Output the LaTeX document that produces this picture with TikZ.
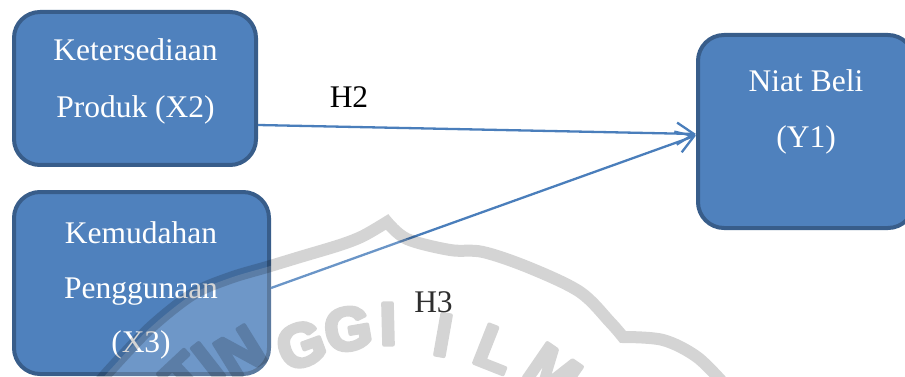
\documentclass[tikz,border=0pt]{standalone}
\usepackage{fontspec}
\setmainfont{Liberation Serif}
\newfontfamily\markfont{Liberation Sans}
\usetikzlibrary{arrows.meta}

\definecolor{boxfill}{HTML}{4F81BD}
\definecolor{boxline}{HTML}{385D8A}
\definecolor{linkblue}{HTML}{4A7EBB}

% emblem glyphs are filled and stroked for a heavy face
\newcommand\heavyglyph[1]{\special{pdf:literal direct 2 Tr 4 w 1 j}#1\special{pdf:literal direct 0 Tr}}

\tikzset{
  varbox/.style={draw=boxline, fill=boxfill, line width=4pt, rounded corners=26pt, inner sep=0pt},
  boxtext/.style={text=white, font=\fontsize{31.5}{36}\selectfont, anchor=base, inner sep=0pt},
  hlabel/.style={text=black, font=\fontsize{31.5}{36}\selectfont, anchor=base, inner sep=0pt},
  link/.style={draw=linkblue, line width=2.3pt, -{Straight Barb[length=17pt,width=22pt]}},
  markband/.style={draw=black, line width=12pt, line join=miter},
  markletter/.style={text=black, font=\markfont\bfseries\fontsize{60}{64}\selectfont, inner sep=0pt}
}

\begin{document}
\begin{tikzpicture}[x=1pt,y=1pt]
  \useasboundingbox (0,0) rectangle (905,-377);
  \clip (0,0) rectangle (905,-377);

  % variable boxes
  \node[varbox, minimum width=242pt, minimum height=153pt] (x2) at (135,-88.5) {};
  \node[varbox, minimum width=255pt, minimum height=182pt] (x3) at (141.5,-283) {};
  \node[varbox, minimum width=216pt, minimum height=193pt] (y1) at (806,-131.5) {};

  % box captions
  \node[boxtext] (x2a) at (135.5,-61) {Ketersediaan};
  \node[boxtext] (x2b) at (135.5,-118) {Produk (X2)};
  \node[boxtext] (x3a) at (141,-243) {Kemudahan};
  \node[boxtext] (x3b) at (141,-298) {Penggunaan};
  \node[boxtext] (x3c) at (141,-352) {(X3)};
  \node[boxtext] (y1a) at (806,-92) {Niat Beli};
  \node[boxtext] (y1b) at (806,-148) {(Y1)};

  % hypothesis paths
  \draw[link] ([yshift=-36.5pt]x2.east) -- ([yshift=-2.5pt]y1.west);
  \draw[link] ([yshift=-5pt]x3.east) -- ([yshift=-4pt]y1.west);
  \node[hlabel] (h2) at (349,-108) {H2};
  \node[hlabel] (h3) at (433.5,-312) {H3};

  % faint emblem in the background
  \fill[white, fill opacity=0.18]
    plot[smooth,tension=0.55] coordinates {(100,-382) (110,-370) (150,-328) (193,-294) (230,-278) (267,-267) (300,-257) (340,-245) (363,-236) (387,-222)}
    -- plot[smooth,tension=0.55] coordinates {(387,-222) (407,-239) (450,-250) (483,-252) (530,-268) (580,-292) (610,-322) (623,-337)}
    -- plot[smooth,tension=0.55] coordinates {(623,-337) (663,-340) (697,-357) (725,-385)}
    -- (725,-400) -- (100,-400) -- cycle;
  \begin{scope}[transparency group, opacity=0.17]
    \draw[markband]
      plot[smooth,tension=0.55] coordinates {(100,-382) (110,-370) (150,-328) (193,-294) (230,-278) (267,-267) (300,-257) (340,-245) (363,-236) (387,-222)}
      -- plot[smooth,tension=0.55] coordinates {(387,-222) (407,-239) (450,-250) (483,-252) (530,-268) (580,-292) (610,-322) (623,-337)}
      -- plot[smooth,tension=0.55] coordinates {(623,-337) (663,-340) (697,-357) (725,-385)};
    \node[markletter, rotate=43]    (wmA) at (185,-377) {\heavyglyph{T}};
    \node[markletter, rotate=38]    (wmB) at (208,-362) {\heavyglyph{I}};
    \node[markletter, rotate=31.8]  (wmC) at (240,-352) {\heavyglyph{N}};
    \node[markletter, rotate=20.2]  (wmD) at (301,-345) {\heavyglyph{G}};
    \node[markletter, rotate=9.8]   (wmE) at (348,-329) {\heavyglyph{G}};
    \node[markletter, rotate=1.4]   (wmF) at (388,-324) {\heavyglyph{I}};
    \node[markletter, rotate=-10]   (wmG) at (443,-335) {\heavyglyph{I}};
    \node[markletter, rotate=-21.6] (wmH) at (495,-349) {\heavyglyph{L}};
    \node[markletter, rotate=-34.5] (wmI) at (553,-372) {\heavyglyph{M}};
  \end{scope}
\end{tikzpicture}
\end{document}
